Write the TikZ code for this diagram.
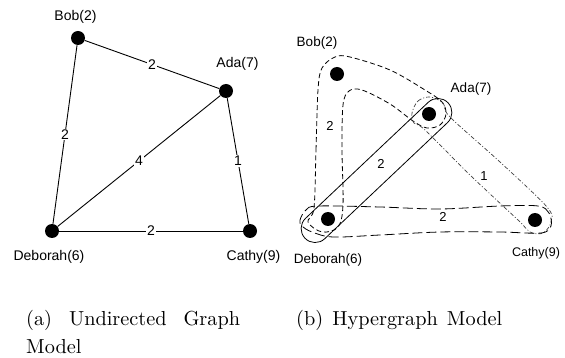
\documentclass[tikz,border=0pt]{standalone}
\usepackage{fontspec}
\newfontfamily\labelfont{Liberation Sans}
\usetikzlibrary{positioning}

\tikzset{
  dot/.style={circle, fill=black, inner sep=0pt, minimum size=14pt},
  vlabel/.style={font=\labelfont\fontsize{14}{16}\selectfont, inner sep=0pt, anchor=base},
  rlabel/.style={font=\labelfont\fontsize{13.5}{16}\selectfont, inner sep=0pt, anchor=base},
  wlabel/.style={font=\labelfont\fontsize{14}{16}\selectfont, fill=white, inner sep=1pt},
  rwlabel/.style={font=\labelfont\fontsize{13}{16}\selectfont, inner sep=1pt},
  gedge/.style={line width=0.9pt},
  hedgeA/.style={line width=0.8pt, dash pattern=on 5pt off 3pt},
  hedgeB/.style={line width=0.8pt},
  hedgeC/.style={line width=0.7pt, black!75, dash pattern=on 4pt off 2pt on 1pt off 2pt},
  hedgeD/.style={line width=0.8pt, dash pattern=on 10pt off 4pt},
  caption/.style={inner sep=0pt, anchor=base west}
}

\begin{document}
\begin{tikzpicture}[x=1pt, y=-1pt]
\useasboundingbox (0,0) rectangle (565,358);

% ---------- (a) undirected graph ----------
\node[dot] (ab) at (78,38) {};
\node[dot] (aa) at (226,91) {};
\node[dot] (ad) at (52,231) {};
\node[dot] (ac) at (250,231) {};

\node[vlabel] (abl) at (75.5,20.5) {Bob(2)};
\node[vlabel] (aal) at (237.5,68) {Ada(7)};
\node[vlabel] (adl) at (49,261) {Deborah(6)};
\node[vlabel] (acl) at (253.5,261) {Cathy(9)};

\draw[gedge] (ab) -- node[wlabel] {2} (aa);
\draw[gedge] (ab) -- node[wlabel] {2} (ad);
\draw[gedge] (aa) -- node[wlabel] {4} (ad);
\draw[gedge] (aa) -- node[wlabel] {1} (ac);
\draw[gedge] (ad) -- node[wlabel] {2} (ac);

% ---------- (b) hypergraph ----------
% hyperedge {Bob, Ada, Deborah}
\draw[hedgeA] plot[smooth cycle, tension=0.55] coordinates {
  (314,208) (316,150) (318,90) (322,68) (335,57) (350,57) (390,70)
  (425,90) (442,102) (446,114) (440,125) (427,128) (413,121) (390,104)
  (362,90) (349,91) (343,105) (342,150) (343,205) (338,227) (322,232) (308,222)};
% hyperedge {Ada, Cathy}
\draw[hedgeC] plot[smooth cycle, tension=0.55] coordinates {
  (412,113) (418,101) (430,97) (443,103) (450,117) (500,162) (547,207)
  (551,222) (543,233) (530,232) (518,220) (470,175) (425,130) (414,123)};
% hyperedge {Deborah, Cathy}
\draw[hedgeD] plot[smooth cycle, tension=0.55] coordinates {
  (300,220) (306,210) (318,206) (380,207) (440,209) (500,206) (538,206)
  (549,213) (551,226) (541,233) (500,232) (440,232) (380,235) (333,237)
  (312,232) (302,226)};
% hyperedge {Ada, Deborah}
\begin{scope}[shift={(376.5,170.5)}, rotate=43.4]
  \draw[hedgeB, rounded corners=14pt] (-98.5,-14) rectangle (98.5,14);
\end{scope}

\node[dot] (bb) at (337,74) {};
\node[dot] (ba) at (429,114) {};
\node[dot] (bd) at (328,219) {};
\node[dot] (bc) at (535,220) {};

\node[rlabel] (bbl) at (317,47) {Bob(2)};
\node[rlabel] (bal) at (471,93) {Ada(7)};
\node[rlabel] (bdl) at (328,263) {Deborah(6)};
\node[rlabel, font=\labelfont\fontsize{12.5}{16}\selectfont] (bcl) at (536,257) {Cathy(9)};

\node[rwlabel] (w1) at (330,126) {2};
\node[rwlabel] (w2) at (381,164) {2};
\node[rwlabel, fill=white, inner sep=0.5pt] (w3) at (484,176) {1};
\node[rwlabel] (w4) at (443,217) {2};

% ---------- captions ----------
\node[caption] (capa) at (26,325) {\scalebox{2.03}{\parbox[t]{105.4pt}{\fontsize{10}{13.8}\selectfont
  \makebox[105.4pt][s]{(a) Undirected Graph}\\Model}}};
\node[caption] (capb) at (296,325) {\scalebox{2.03}{\fontsize{10}{12}\selectfont
  \makebox[101.5pt][s]{(b) Hypergraph Model}}};
\end{tikzpicture}
\end{document}
